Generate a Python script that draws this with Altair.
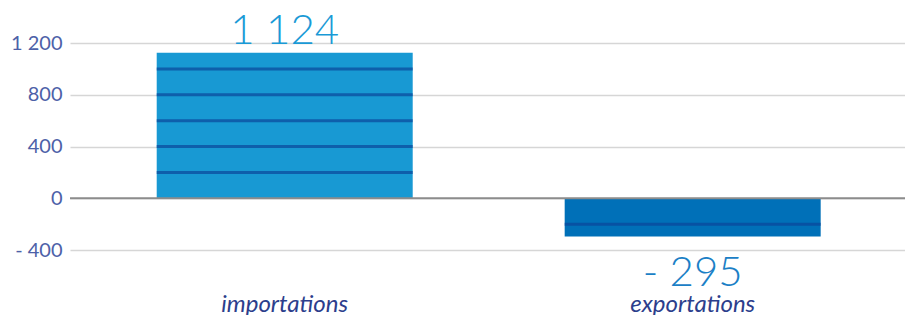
import altair as alt
import pandas as pd

categories = ["importations", "exportations"]
values = [1124, -295]
bar_colors = ["#1899d3", "#0070b8"]
label_colors = ["#1a9ad6", "#1b80c6"]
grid_values = [-400, -200, 0, 200, 400, 600, 800, 1000, 1200]

df = pd.DataFrame({"cat": categories, "value": values,
                   "bar_color": bar_colors, "label_color": label_colors})

# dark bands drawn on the bars at each gridline that falls inside a bar
rows = []
for c, v in zip(categories, values):
    for g in grid_values:
        if g != 0 and min(0, v) < g < max(0, v):
            rows.append({"cat": c, "g": g})
stripes = pd.DataFrame(rows)

FONT = "Lato"

x = alt.X("cat:N", sort=categories, title=None,
          scale=alt.Scale(paddingInner=0.3725, paddingOuter=0.2096, align=0.507),
          axis=alt.Axis(orient="bottom", ticks=False, domain=False, labelPadding=42,
                        labelFontSize=24, labelFontStyle="italic", labelColor="#2c3e8c",
                        labelFont=FONT, labelAngle=0, grid=False))
yscale = alt.Scale(domain=[-400, 1200], nice=False, zero=False)
lab_expr = ("datum.value % 400 != 0 ? '' : (datum.value < 0 ? '- ' + replace(format(-datum.value, ','), ',', ' ') "
            ": replace(format(datum.value, ','), ',', ' '))")
y = alt.Y("value:Q", scale=yscale, title=None,
          axis=alt.Axis(values=grid_values, grid=True, gridColor="#d6d6d6", gridWidth=1.6,
                        ticks=False, domain=False, labelExpr=lab_expr, labelFontSize=20,
                        labelColor="#4d61a8", labelFont=FONT, labelPadding=8))

base = alt.Chart(df)
bars = base.mark_bar().encode(x=x, y=y, color=alt.Color("bar_color:N", scale=None))

zero = alt.Chart(pd.DataFrame({"z": [0]})).mark_rule(color="#8c8c8c", strokeWidth=2).encode(
    y=alt.Y("z:Q", scale=yscale))

ticks = alt.Chart(stripes).mark_tick(orient="horizontal", thickness=3, size=256, color="#0a469a").encode(
    x=alt.X("cat:N", sort=categories), y=alt.Y("g:Q", scale=yscale))

fmt = ("(datum.value < 0 ? '- ' : '') + replace(format(abs(datum.value), ','), ',', ' ')")
pos_text = base.transform_filter("datum.value >= 0").transform_calculate(lbl=fmt).mark_text(
    fontSize=42, font=FONT, fontWeight=300, baseline="alphabetic", dy=-9).encode(
    x=alt.X("cat:N", sort=categories), y=alt.Y("value:Q", scale=yscale), text="lbl:N",
    color=alt.Color("label_color:N", scale=None))
neg_text = base.transform_filter("datum.value < 0").transform_calculate(lbl=fmt).mark_text(
    fontSize=42, font=FONT, fontWeight=300, baseline="alphabetic", dy=50).encode(
    x=alt.X("cat:N", sort=categories), y=alt.Y("value:Q", scale=yscale), text="lbl:N",
    color=alt.Color("label_color:N", scale=None))

chart = alt.layer(bars, zero, ticks, pos_text, neg_text).properties(
    width=835, height=207,
    autosize=alt.AutoSizeParams(type="none"),
    padding={"left": 62, "top": 35, "right": 0, "bottom": 65},
).configure_view(stroke=None)

chart.save("out.html", embed_options={"renderer": "svg", "actions": False})
